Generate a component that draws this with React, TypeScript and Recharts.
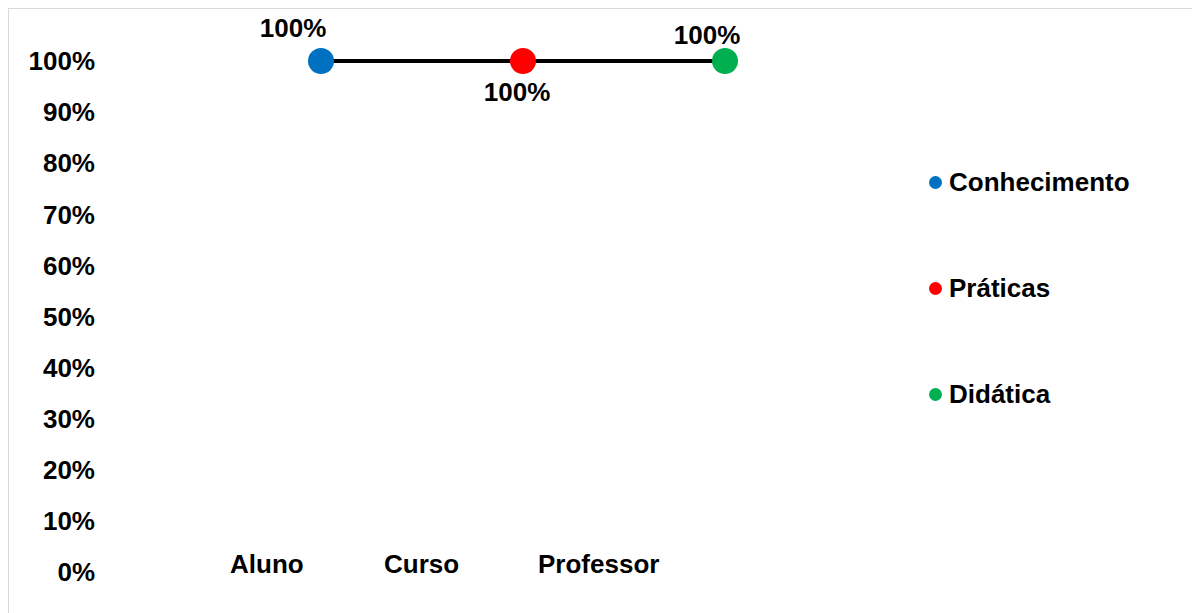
import { ComposedChart, Legend, Line, XAxis, YAxis } from "recharts"

// categorias do eixo x e séries (um ponto por série)
const categories = ["Aluno", "Curso", "Professor"]
const seriesNames = ["Conhecimento", "Práticas", "Didática"]
const seriesValues = [100, 100, 100]
const seriesColors = ["#0070C0", "#FF0000", "#00B050"]
const yTicks = [0, 10, 20, 30, 40, 50, 60, 70, 80, 90, 100]

// deslocamento dos rótulos de dados (estilo, não dados)
const labelDx = [-28, -6, -18]
const labelDy = [-24, 40, -17]

const FONT = '"Liberation Sans", Arial, sans-serif'

const data = seriesNames.map((name, i) => ({
  pos: i + 1,
  label: categories[i],
  all: seriesValues[i],
  [name]: seriesValues[i],
}))

function CategoryTick(props: any) {
  const { x, y, payload } = props
  return (
    <text x={x} y={y} dy={-7} textAnchor="start" fontFamily={FONT} fontWeight={700} fontSize={26} fill="#000">
      {payload.value}
    </text>
  )
}

function makeLabel(i: number) {
  return (props: any) => {
    const { x, y, value } = props
    if (value == null || x == null || y == null) return null
    return (
      <text
        x={x + labelDx[i]}
        y={y + labelDy[i]}
        textAnchor="middle"
        fontFamily={FONT}
        fontWeight={700}
        fontSize={26}
        fill="#000"
      >
        {`${value}%`}
      </text>
    )
  }
}

function LegendContent() {
  return (
    <div style={{ fontFamily: FONT }}>
      {seriesNames.map((name, i) => (
        <div key={name} style={{ height: 106, display: "flex", alignItems: "center" }}>
          <span
            style={{
              width: 13,
              height: 13,
              borderRadius: "50%",
              background: seriesColors[i],
              display: "inline-block",
              marginRight: 7,
            }}
          />
          <span style={{ fontSize: 26, fontWeight: 700, color: "#000" }}>{name}</span>
        </div>
      ))}
    </div>
  )
}

export default function App() {
  return (
    <div style={{ width: 1200, height: 620, border: "1px solid #d9d9d9", boxSizing: "border-box" }}>
      <ComposedChart width={1190} height={604} data={data} margin={{ top: 52, right: 272, left: 20, bottom: 11 }}>
        <XAxis xAxisId="pos" dataKey="pos" type="number" domain={[0, 4]} hide />
        <XAxis
          xAxisId="cat"
          dataKey="label"
          type="category"
          scale="point"
          padding={{ left: 111, right: 389 }}
          axisLine={false}
          tickLine={false}
          interval={0}
          tick={<CategoryTick />}
        />
        <YAxis
          domain={[0, 100]}
          ticks={yTicks}
          interval={0}
          tickFormatter={(v) => `${v}%`}
          axisLine={false}
          tickLine={false}
          tickSize={0}
          tickMargin={24}
          width={90}
          tick={{ fontSize: 26, fontWeight: 700, fill: "#000", fontFamily: FONT }}
        />
        <Legend
          layout="vertical"
          align="center"
          verticalAlign="middle"
          content={<LegendContent />}
          wrapperStyle={{ left: 920, top: 120, width: 260 }}
        />
        <Line
          xAxisId="pos"
          dataKey="all"
          stroke="#000"
          strokeWidth={4}
          dot={false}
          activeDot={false}
          legendType="none"
          isAnimationActive={false}
        />
        {seriesNames.map((name, i) => (
          <Line
            key={name}
            xAxisId="pos"
            dataKey={name}
            stroke="none"
            dot={{ r: 13, fill: seriesColors[i], stroke: "none", strokeWidth: 0 }}
            activeDot={false}
            label={makeLabel(i)}
            isAnimationActive={false}
          />
        ))}
      </ComposedChart>
    </div>
  )
}
